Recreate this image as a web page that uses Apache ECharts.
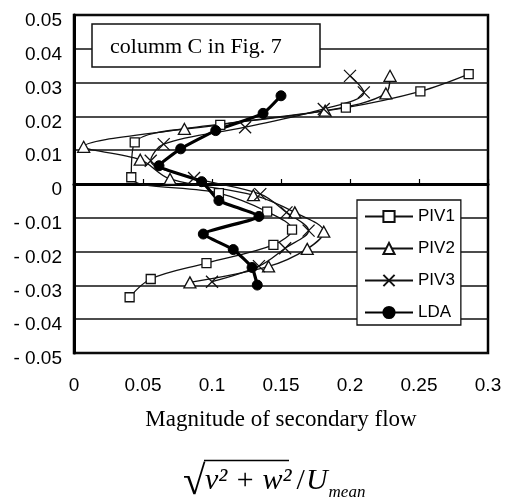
<!DOCTYPE html>
<html><head><meta charset="utf-8">
<script src="https://cdn.jsdelivr.net/npm/echarts@6/dist/echarts.min.js"></script>
<style>html,body{margin:0;padding:0;background:#fff}#c{width:505px;height:503px}</style>
</head><body><div id="c"></div>
<script>
var xTicks = [0, 0.05, 0.1, 0.15, 0.2, 0.25, 0.3];
var yTicks = [-0.05, -0.04, -0.03, -0.02, -0.01, 0, 0.01, 0.02, 0.03, 0.04, 0.05];
var seriesNames = ['PIV1', 'PIV2', 'PIV3', 'LDA'];
var piv1X = [0.286, 0.251, 0.197, 0.106, 0.044, 0.0415, 0.105, 0.140, 0.158, 0.1445, 0.096, 0.0556, 0.0403];
var piv1Y = [0.0325, 0.0274, 0.0226, 0.0175, 0.0123, 0.002, -0.0027, -0.0082, -0.0135, -0.018, -0.0234, -0.0281, -0.0335];
var piv2X = [0.229, 0.226, 0.182, 0.080, 0.007, 0.048, 0.0696, 0.130, 0.160, 0.181, 0.169, 0.141, 0.084];
var piv2Y = [0.032, 0.0268, 0.0217, 0.0163, 0.011, 0.0072, 0.0015, -0.0033, -0.0084, -0.0141, -0.0192, -0.0244, -0.0291];
var piv3X = [0.200, 0.210, 0.181, 0.124, 0.065, 0.0556, 0.087, 0.135, 0.154, 0.170, 0.153, 0.134, 0.100];
var piv3Y = [0.032, 0.0271, 0.0222, 0.0168, 0.0118, 0.0069, 0.0018, -0.003, -0.0084, -0.0138, -0.019, -0.0243, -0.0289];
var ldaX = [0.150, 0.137, 0.1027, 0.0773, 0.0616, 0.0925, 0.105, 0.134, 0.0937, 0.1154, 0.129, 0.1328];
var ldaY = [0.0261, 0.0209, 0.0158, 0.0104, 0.0054, 0.0007, -0.0049, -0.0096, -0.0148, -0.0194, -0.0247, -0.0299];

function zip(xs, ys) { return xs.map(function (x, i) { return [x, ys[i]]; }); }
function fmtX(v) { return String(parseFloat(v.toFixed(2))); }
function fmtY(v) {
  var r = Math.round(v * 100) / 100;
  if (r === 0) return '0';
  if (r < 0) return '- ' + Math.abs(r).toFixed(2);
  return r.toFixed(2);
}

var chart = echarts.init(document.getElementById('c'), null, {renderer: 'canvas'});
var sansFont = 'Liberation Sans';
var serifFont = 'Liberation Serif';
var thin = {color: '#111', width: 1.3};
chart.setOption({
  animation: false,
  backgroundColor: '#fff',
  grid: {left: 74, right: 17, top: 15, bottom: 150, show: true, borderColor: '#000', borderWidth: 2.5, backgroundColor: 'transparent'},
  xAxis: {
    type: 'value', min: xTicks[0], max: xTicks[xTicks.length - 1], interval: 0.05,
    axisLine: {show: true, lineStyle: {color: '#000', width: 3}},
    axisTick: {show: true, inside: true, length: 5, lineStyle: {color: '#000', width: 1.2}},
    splitLine: {show: false},
    axisLabel: {formatter: fmtX, color: '#000', fontFamily: sansFont, fontSize: 19, margin: 23},
    name: 'Magnitude of secondary flow', nameLocation: 'middle', nameGap: 55,
    nameTextStyle: {fontFamily: serifFont, fontSize: 23, color: '#000'}
  },
  yAxis: {
    type: 'value', min: yTicks[0], max: yTicks[yTicks.length - 1], interval: 0.01,
    axisLine: {show: true, lineStyle: {color: '#000', width: 3}},
    axisTick: {show: false},
    splitLine: {show: true, lineStyle: {color: '#111', width: 1.5}},
    axisLabel: {formatter: fmtY, color: '#000', fontFamily: sansFont, fontSize: 19, margin: 12, verticalAlign: 'top', lineHeight: 12}
  },
  legend: {
    orient: 'vertical', left: 357, top: 200, data: seriesNames,
    itemWidth: 48, itemHeight: 14, itemGap: 15,
    padding: [8, 6, 4, 7],
    backgroundColor: '#fff', borderColor: '#111', borderWidth: 1.3, borderRadius: 0,
    textStyle: {fontFamily: sansFont, fontSize: 17, color: '#000', padding: [0, 0, 0, 0]}
  },
  graphic: [
    {type: 'rect', shape: {x: 92, y: 24, width: 228, height: 43}, style: {fill: '#fff', stroke: '#111', lineWidth: 1.5}, z: 10},
    {type: 'text', x: 110, y: 47, style: {text: 'columm C in Fig. 7', fontFamily: serifFont, fontSize: 22, fill: '#000', verticalAlign: 'middle'}, z: 11},
    {type: 'text', x: 183, y: 483, style: {text: '\u221A', fontFamily: serifFont, fontSize: 41, fill: '#000', verticalAlign: 'middle'}, z: 11},
    {type: 'line', shape: {x1: 204, y1: 460.5, x2: 289, y2: 460.5}, style: {stroke: '#000', lineWidth: 1.3}, z: 11},
    {type: 'text', x: 205, y: 481, style: {
      rich: {
        a: {fontFamily: serifFont, fontStyle: 'italic', fontSize: 30, fill: '#000'},
        b: {fontFamily: serifFont, fontSize: 30, fill: '#000', padding: [0, 1, 0, 5]},
        c: {fontFamily: serifFont, fontStyle: 'italic', fontSize: 30, fill: '#000'},
        d: {fontFamily: serifFont, fontStyle: 'italic', fontSize: 17, fill: '#000', padding: [24, 0, 0, 1]}
      },
      text: '{a|v\u00B2 + w\u00B2}{b|/}{c|U}{d|mean}', verticalAlign: 'middle'}, z: 11}
  ],
  series: [
    {name: 'PIV1', type: 'line', data: zip(piv1X, piv1Y), smooth: 0.35, symbol: 'rect', symbolSize: 9,
      lineStyle: thin, itemStyle: {color: '#fff', borderColor: '#111', borderWidth: 1.3}},
    {name: 'PIV2', type: 'line', data: zip(piv2X, piv2Y), smooth: 0.35, symbol: 'triangle', symbolSize: [12, 11],
      lineStyle: thin, itemStyle: {color: '#fff', borderColor: '#111', borderWidth: 1.3}},
    {name: 'PIV3', type: 'line', data: zip(piv3X, piv3Y), smooth: 0.35, symbol: 'path://M0,0L10,10M10,0L0,10', symbolSize: 12,
      lineStyle: thin, itemStyle: {color: 'none', borderColor: '#111', borderWidth: 1.3}},
    {name: 'LDA', type: 'line', data: zip(ldaX, ldaY), smooth: 0.15, symbol: 'circle', symbolSize: 10,
      lineStyle: {color: '#000', width: 3.2}, itemStyle: {color: '#000', borderColor: '#000', borderWidth: 1}}
  ]
});
</script></body></html>
